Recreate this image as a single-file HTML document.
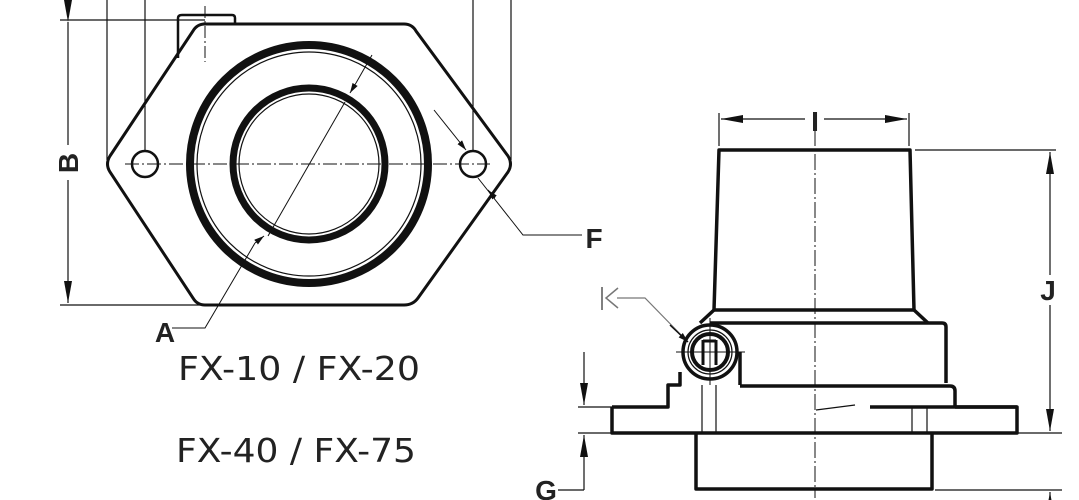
<!DOCTYPE html>
<html><head><meta charset="utf-8"><style>
html,body{margin:0;padding:0;background:#fff;}
svg{display:block;}
text{font-family:"Liberation Sans",sans-serif;fill:#222;}
</style></head><body>
<svg width="1079" height="500" viewBox="0 0 1079 500" xmlns="http://www.w3.org/2000/svg">
<defs>
<marker id="ar" markerWidth="10" markerHeight="6" refX="10" refY="3" orient="auto" markerUnits="userSpaceOnUse"><path d="M0,0 L10,3 L0,6 z" fill="#111"/></marker>
<marker id="arL" markerWidth="22" markerHeight="8" refX="22" refY="4" orient="auto" markerUnits="userSpaceOnUse"><path d="M0,0 L22,4 L0,8 z" fill="#111"/></marker>
</defs>
<g fill="none" stroke="#111">
<g stroke-width="1.2">
<line x1="107" y1="0" x2="107" y2="160"/><line x1="145" y1="0" x2="145" y2="152"/>
<line x1="473" y1="0" x2="473" y2="152"/><line x1="511" y1="0" x2="511" y2="160"/>
<line x1="60" y1="20" x2="205" y2="20"/><line x1="60" y1="305" x2="200" y2="305"/>
<line x1="68" y1="22" x2="68" y2="145" marker-start="url(#arL)"/>
<line x1="68" y1="180" x2="68" y2="303" marker-end="url(#arL)"/>
</g>
<path d="M178,58 L178,18 Q178,15 182,15 L232,15 Q235,15 235,18 L235,24" stroke-width="2.5"/>
<line x1="205" y1="6" x2="205" y2="62" stroke-width="1" stroke-dasharray="12,3,2,3"/>
<path d="M203,24 L404,24 Q412,24 416,31 L508,156 Q513,164 508,172 L418,298 Q413,305 404,305 L205,305 Q197,305 193,298 L110,172 Q105,164 110,156 L193,31 Q197,24 205,24 Z" stroke-width="3"/>
<circle cx="145" cy="164" r="13" stroke-width="2.5"/>
<circle cx="473" cy="164" r="13" stroke-width="2.5"/>
<line x1="125" y1="164" x2="490" y2="164" stroke-width="1" stroke-dasharray="14,3,2,3"/>
<circle cx="309" cy="164" r="119" stroke-width="8"/>
<circle cx="309" cy="164" r="112" stroke-width="1.2"/>
<circle cx="309" cy="164" r="76" stroke-width="7"/>
<circle cx="309" cy="164" r="70" stroke-width="1.2"/>
<line x1="372" y1="55" x2="356" y2="83" stroke-width="1"/>
<line x1="345" y1="102" x2="268" y2="236" stroke-width="1"/>
<line x1="356" y1="83" x2="350" y2="93" stroke-width="1" marker-end="url(#ar)"/>
<polyline points="255,243 205,328 172,328" stroke-width="1"/>
<line x1="255" y1="243" x2="264" y2="236" stroke-width="1" marker-end="url(#ar)"/>
<line x1="434" y1="110" x2="466" y2="150" stroke-width="1" marker-end="url(#ar)"/>
<polyline points="478,178 523,235 582,235" stroke-width="1"/>
<line x1="495" y1="198" x2="488" y2="190" stroke-width="1" marker-end="url(#ar)"/>

<line x1="815" y1="130" x2="815" y2="498" stroke-width="1" stroke-dasharray="16,3,2,3"/>
<g stroke-width="1.2">
<line x1="719" y1="113" x2="719" y2="146"/><line x1="909" y1="113" x2="909" y2="146"/>
<line x1="805" y1="119" x2="721" y2="119" marker-end="url(#arL)"/>
<line x1="824" y1="119" x2="907" y2="119" marker-end="url(#arL)"/>
<line x1="915" y1="150" x2="1056" y2="150"/>
<line x1="932" y1="433" x2="1062" y2="433"/>
<line x1="935" y1="490" x2="1062" y2="490"/>
<line x1="1050" y1="275" x2="1050" y2="152" marker-end="url(#arL)"/>
<line x1="1050" y1="305" x2="1050" y2="431" marker-end="url(#arL)"/>
<line x1="1050" y1="520" x2="1050" y2="492" marker-end="url(#arL)"/>
<line x1="578" y1="407" x2="612" y2="407"/><line x1="578" y1="433" x2="612" y2="433"/>
<line x1="584" y1="352" x2="584" y2="405" marker-end="url(#arL)"/>
<line x1="584" y1="490" x2="584" y2="435" marker-end="url(#arL)"/>
<line x1="584" y1="490" x2="558" y2="490"/>
<line x1="702" y1="385" x2="702" y2="433"/><line x1="716" y1="385" x2="716" y2="433"/>
<line x1="912" y1="407" x2="912" y2="433"/><line x1="927" y1="407" x2="927" y2="433"/>
</g>
<g stroke-width="3.5" stroke-linejoin="round">
<path d="M719,150 L910,150 L914,310 L714,310 Z"/>
<path d="M714,310 L700,323 M914,310 L928,323"/>
<path d="M710,323 L942,323 Q946,323 946,327 L946,383"/>
<path d="M740,385 L740,352"/>
<path d="M740,386 L950,386 Q955,386 955,391 L955,407"/>
<path d="M668,402 L668,385 L680,385 L680,372"/>
<path d="M612,407 L668,407 L668,402 M612,407 L612,433 L1017,433 L1017,407 L955,407"/>
<line x1="870" y1="407" x2="1017" y2="407"/>
<path d="M696,433 L696,489 L932,489 L932,433"/>
</g>
<line x1="816" y1="410" x2="855" y2="405" stroke-width="1.2"/>
<circle cx="710" cy="352" r="27" stroke-width="3.5"/>
<circle cx="710" cy="352" r="22" stroke-width="1.2"/>
<circle cx="710" cy="352" r="18" stroke-width="4"/>
<path d="M703,340 L703,365 M716,340 L716,365 M703,341 L716,341" stroke-width="3"/>
<line x1="676" y1="352" x2="745" y2="352" stroke-width="1"/>
<line x1="710" y1="318" x2="710" y2="385" stroke-width="1"/>
<polyline points="617,298 645,298 686,340" stroke="#777" stroke-width="1.2"/>
<line x1="670" y1="325" x2="688" y2="342" stroke-width="1.5" marker-end="url(#ar)"/>
<line x1="602" y1="287" x2="602" y2="310" stroke="#555" stroke-width="1.5"/>
<polyline points="618,288 606,298 618,308" stroke="#777" stroke-width="1.5"/>
</g>
<text x="78" y="163" font-size="28" font-weight="bold" transform="rotate(-90 78 163)" text-anchor="middle">B</text>
<text x="165" y="342" font-size="28" font-weight="bold" text-anchor="middle">A</text>
<text x="594" y="248" font-size="28" font-weight="bold" text-anchor="middle">F</text>
<text x="815" y="131" font-size="28" font-weight="bold" text-anchor="middle">I</text>
<text x="1048" y="300" font-size="28" font-weight="bold" text-anchor="middle">J</text>
<text x="546" y="500" font-size="28" font-weight="bold" text-anchor="middle">G</text>
<text x="178" y="380" font-size="33" fill="#333" textLength="242" lengthAdjust="spacingAndGlyphs" style="font-family:'DejaVu Sans',sans-serif">FX-10 / FX-20</text>
<text x="176" y="462" font-size="33" fill="#333" textLength="240" lengthAdjust="spacingAndGlyphs" style="font-family:'DejaVu Sans',sans-serif">FX-40 / FX-75</text>
</svg>
</body></html>
